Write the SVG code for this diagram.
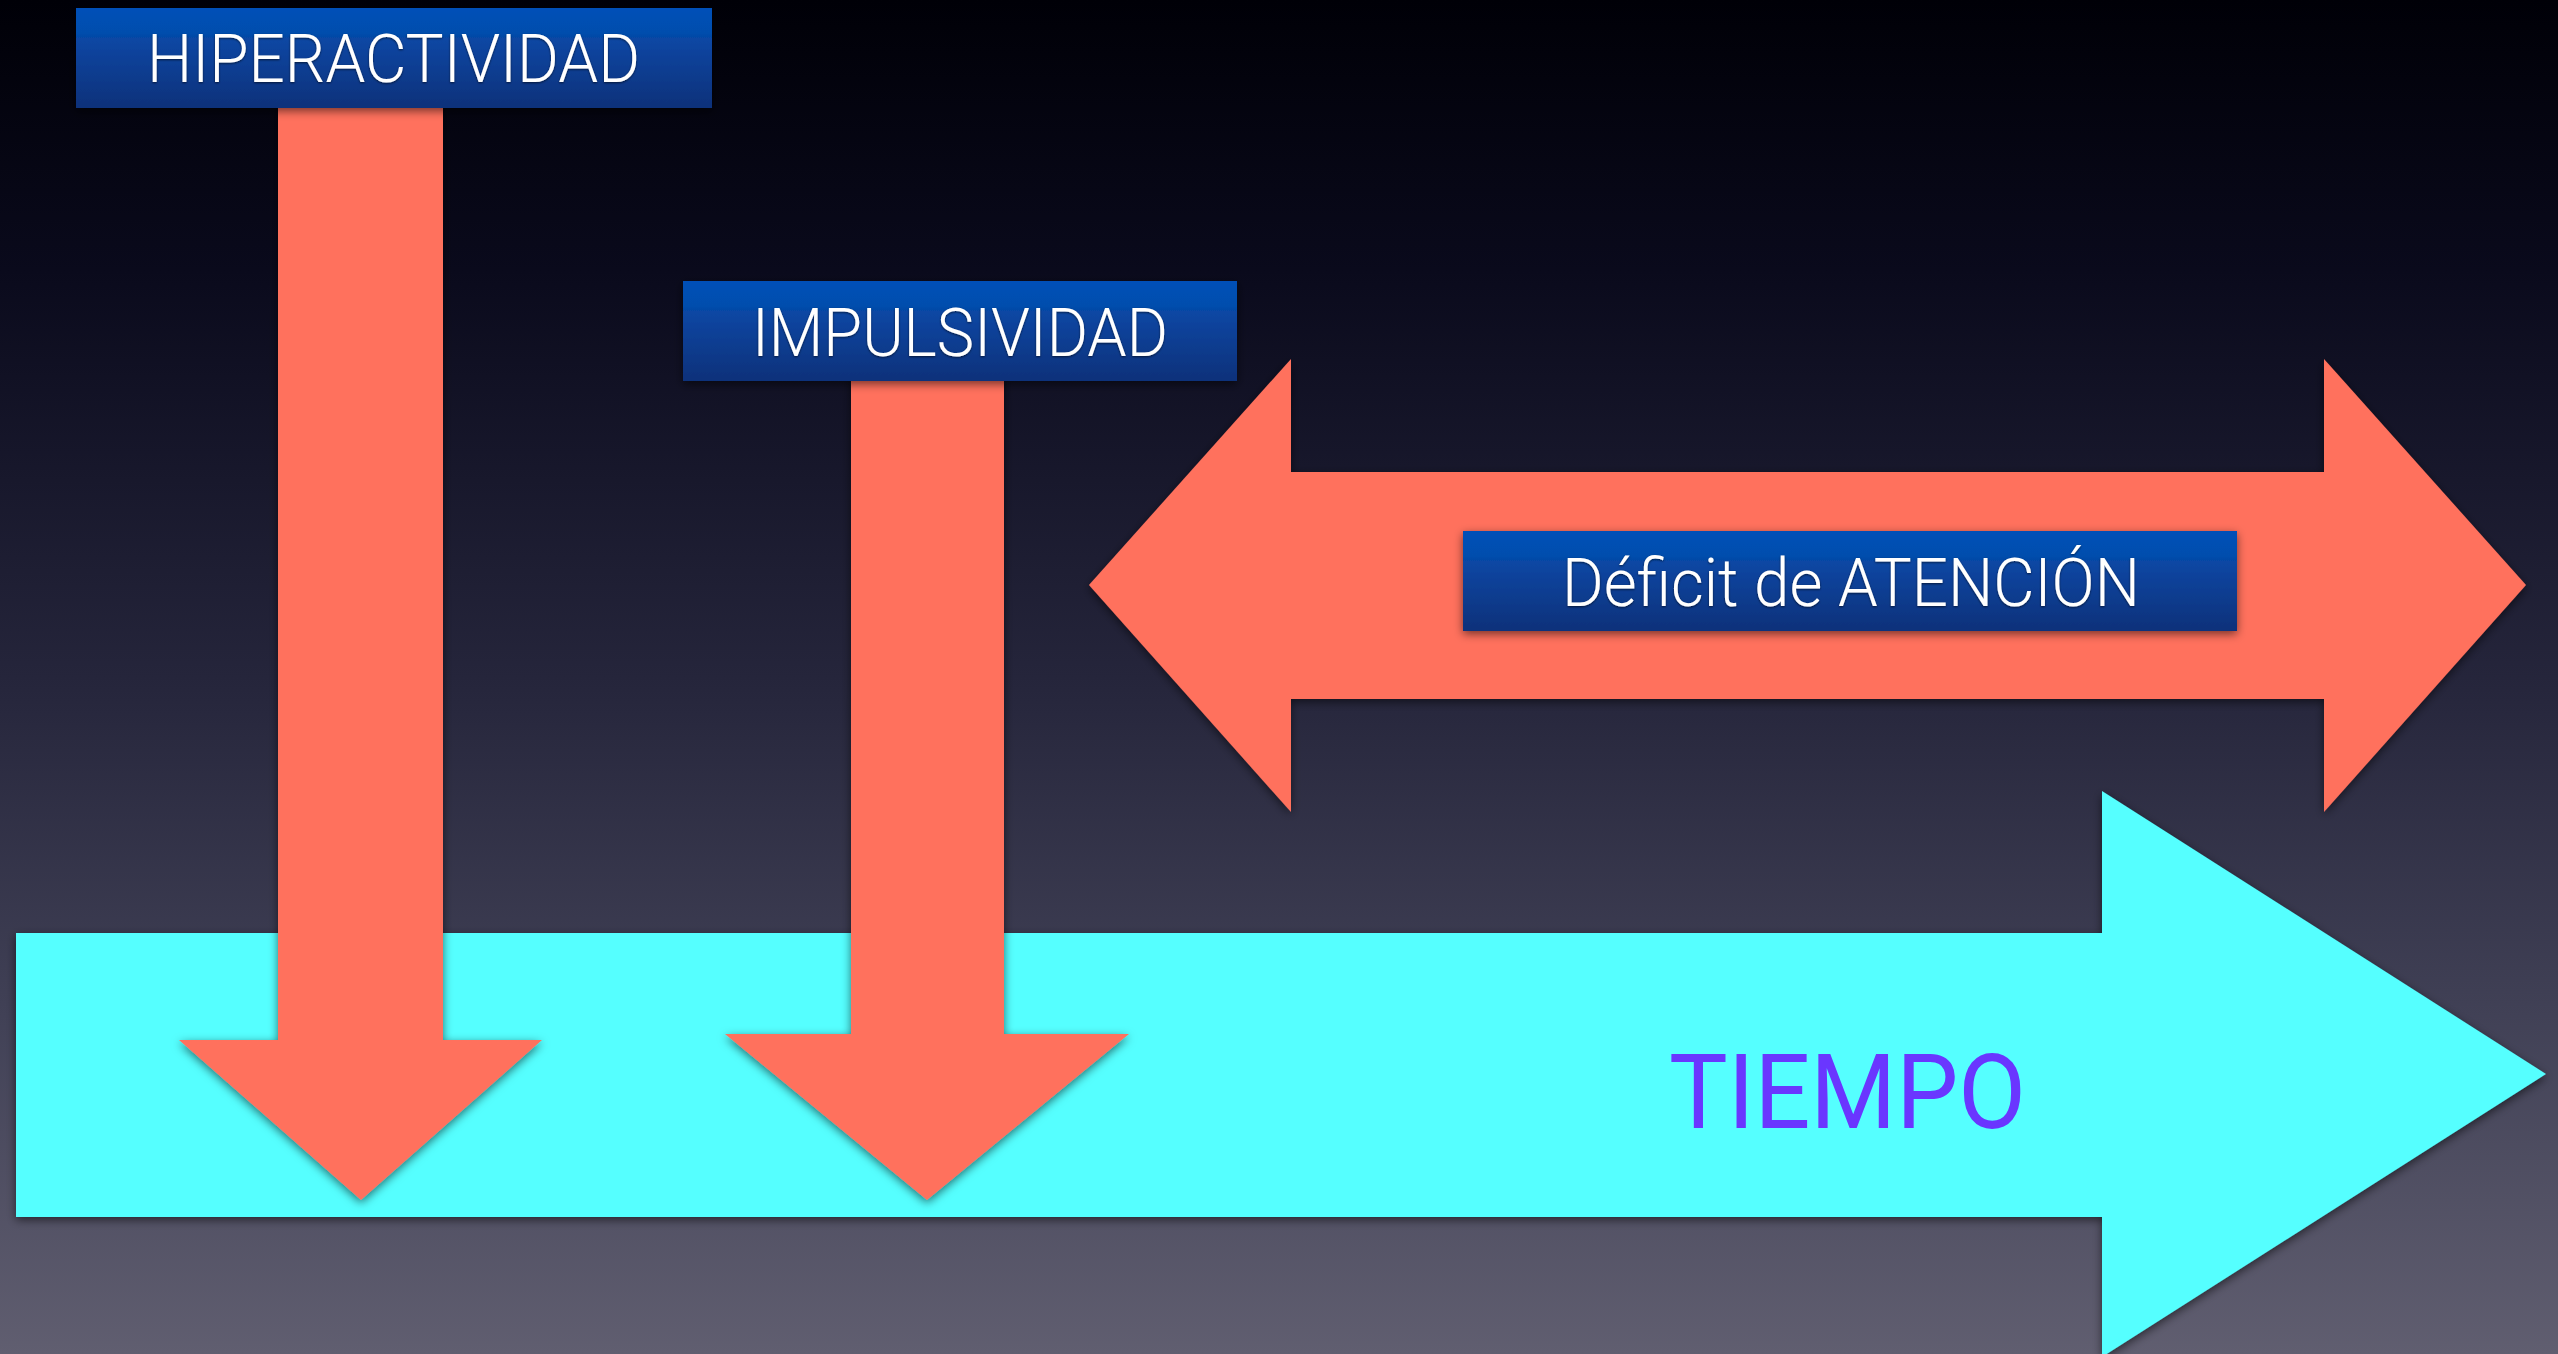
<svg xmlns="http://www.w3.org/2000/svg" width="2558" height="1354" viewBox="0 0 2558 1354">
<defs>
<linearGradient id="bg" x1="0" y1="0" x2="0" y2="1">
<stop offset="0" stop-color="#000007"/>
<stop offset="0.2" stop-color="#0a0a1c"/>
<stop offset="0.5" stop-color="#25253b"/>
<stop offset="0.75" stop-color="#414156"/>
<stop offset="1" stop-color="#605e70"/>
</linearGradient>
<linearGradient id="boxg" x1="0" y1="0" x2="0" y2="1">
<stop offset="0" stop-color="#0050b8"/>
<stop offset="0.25" stop-color="#024ead"/>
<stop offset="0.3" stop-color="#0747a4"/>
<stop offset="1" stop-color="#0d317a"/>
</linearGradient>
<filter id="sh" x="-10%" y="-10%" width="120%" height="125%">
<feDropShadow dx="0" dy="3" stdDeviation="5" flood-color="#000" flood-opacity="0.55"/>
</filter>
<filter id="tsh" x="-5%" y="-20%" width="110%" height="140%">
<feDropShadow dx="0" dy="1" stdDeviation="1" flood-color="#000" flood-opacity="0.6"/>
</filter>
</defs>
<style>
.red{fill:#ff715d;filter:url(#sh)}
.box{fill:url(#boxg);filter:url(#sh)}
.lbl{font-family:"Roboto","Liberation Sans",sans-serif;font-weight:300;fill:#ffffff;font-size:66px;filter:url(#tsh)}
.tiempo{font-family:"Roboto","Liberation Sans",sans-serif;font-weight:400;fill:#6a36ff;font-size:104px}
</style>
<rect x="0" y="0" width="2558" height="1354" fill="url(#bg)"/>
<g id="tiempo">
<polygon points="16,933 2102,933 2102,791 2546,1074 2102,1357 2102,1217 16,1217" fill="#55ffff" filter="url(#sh)"/>
<text class="tiempo" x="1669" y="1128" textLength="357" lengthAdjust="spacingAndGlyphs">TIEMPO</text>
</g>
<g id="connectors">
<polygon class="red" points="278,100 443,100 443,1040 542,1040 361,1200 179,1040 278,1040"/>
<polygon class="red" points="851,370 1004,370 1004,1034 1129,1034 927,1200 725,1034 851,1034"/>
<polygon class="red" points="1089,585 1291,359 1291,472 2324,472 2324,359 2526,585 2324,812 2324,699 1291,699 1291,812"/>
</g>
<g id="hiperactividad">
<rect class="box" x="76" y="8" width="636" height="100"/>
<text class="lbl" x="147" y="82" textLength="493" lengthAdjust="spacingAndGlyphs">HIPERACTIVIDAD</text>
</g>
<g id="impulsividad">
<rect class="box" x="683" y="281" width="554" height="100"/>
<text class="lbl" x="752" y="356" textLength="416" lengthAdjust="spacingAndGlyphs">IMPULSIVIDAD</text>
</g>
<g id="deficit">
<rect class="box" x="1463" y="531" width="774" height="100"/>
<text class="lbl" x="1562" y="606" textLength="578" lengthAdjust="spacingAndGlyphs">Déficit de ATENCIÓN</text>
</g>
</svg>
